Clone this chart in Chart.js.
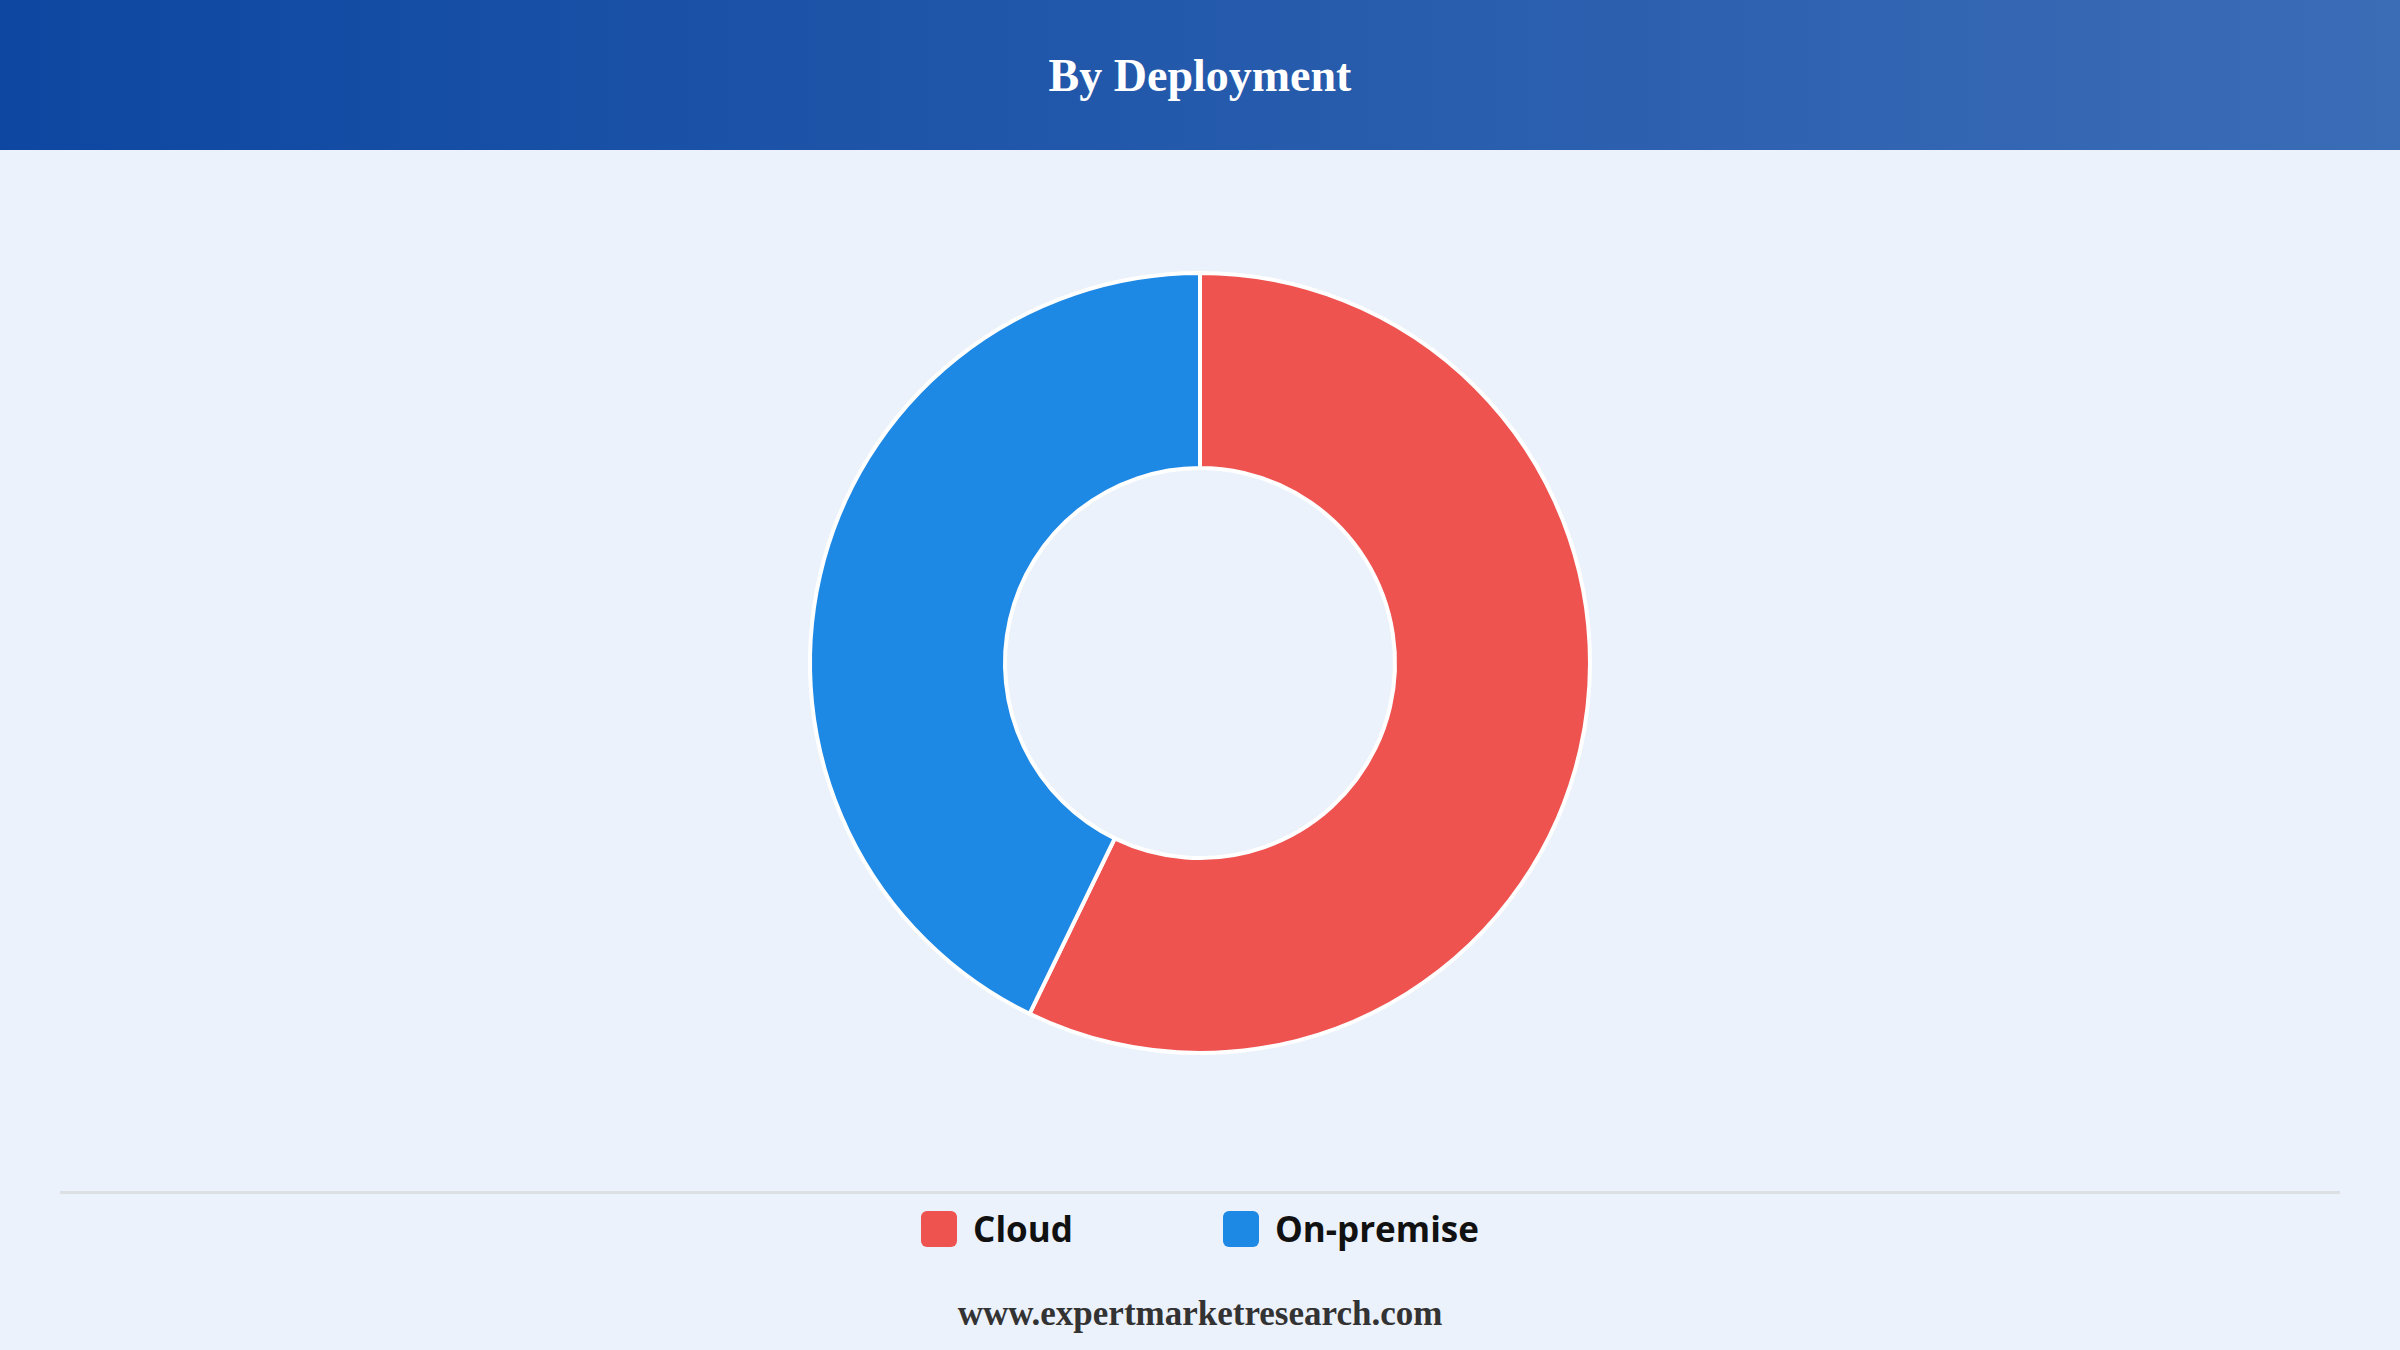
<!DOCTYPE html>
<html>
<head>
<meta charset="utf-8">
<script src="https://cdn.jsdelivr.net/npm/chart.js@4/dist/chart.umd.min.js"></script>
<style>
  html, body { margin: 0; padding: 0; width: 2400px; height: 1350px; background: #ebf2fc; overflow: hidden; }
  .header { position: absolute; left: 0; top: 0; width: 2400px; height: 150px;
    background: linear-gradient(90deg, #0d47a1 0%, #3b6cb6 100%);
    color: #fff; font-family: "Liberation Serif", serif; font-weight: bold; font-size: 46px;
    display: flex; align-items: center; justify-content: center; }
  .chart-box { position: absolute; left: 0; top: 243px; width: 2400px; height: 840px; }
  .divider { position: absolute; left: 60px; top: 1191px; width: 2280px; height: 3px; background: #dcdfe4; }
  .legend { position: absolute; left: 0; top: 1205px; width: 2400px; display: flex; justify-content: center; gap: 150px;
    font-family: "Open Sans", sans-serif; font-weight: bold; font-size: 35px; color: #111; }
  .legend-item { display: flex; align-items: center; gap: 16px; }
  .swatch { width: 36px; height: 36px; border-radius: 6px; }
  .footer { position: absolute; left: 0; top: 1294px; width: 2400px; text-align: center;
    font-family: "Liberation Serif", serif; font-weight: bold; font-size: 35px; color: #333; }
</style>
</head>
<body>
<div class="header">By Deployment</div>
<div class="chart-box"><canvas id="donut"></canvas></div>
<div class="divider"></div>
<div class="legend" id="legend"></div>
<div class="footer">www.expertmarketresearch.com</div>
<script>
const categories = ['Cloud', 'On-premise'];
const shares = [57.2, 42.8];
const colors = ['#ef5350', '#1e88e5'];

document.getElementById('legend').innerHTML = categories.map((c, i) =>
  `<div class="legend-item"><div class="swatch" style="background:${colors[i]}"></div>${c}</div>`
).join('');

new Chart(document.getElementById('donut').getContext('2d'), {
  type: 'doughnut',
  data: {
    labels: categories,
    datasets: [{ data: shares, backgroundColor: colors, borderColor: '#ffffff', borderWidth: 4 }]
  },
  options: {
    responsive: true,
    maintainAspectRatio: false,
    animation: false,
    radius: 390,
    cutout: '50%',
    plugins: { legend: { display: false }, tooltip: { enabled: false } }
  }
});
</script>
</body>
</html>
